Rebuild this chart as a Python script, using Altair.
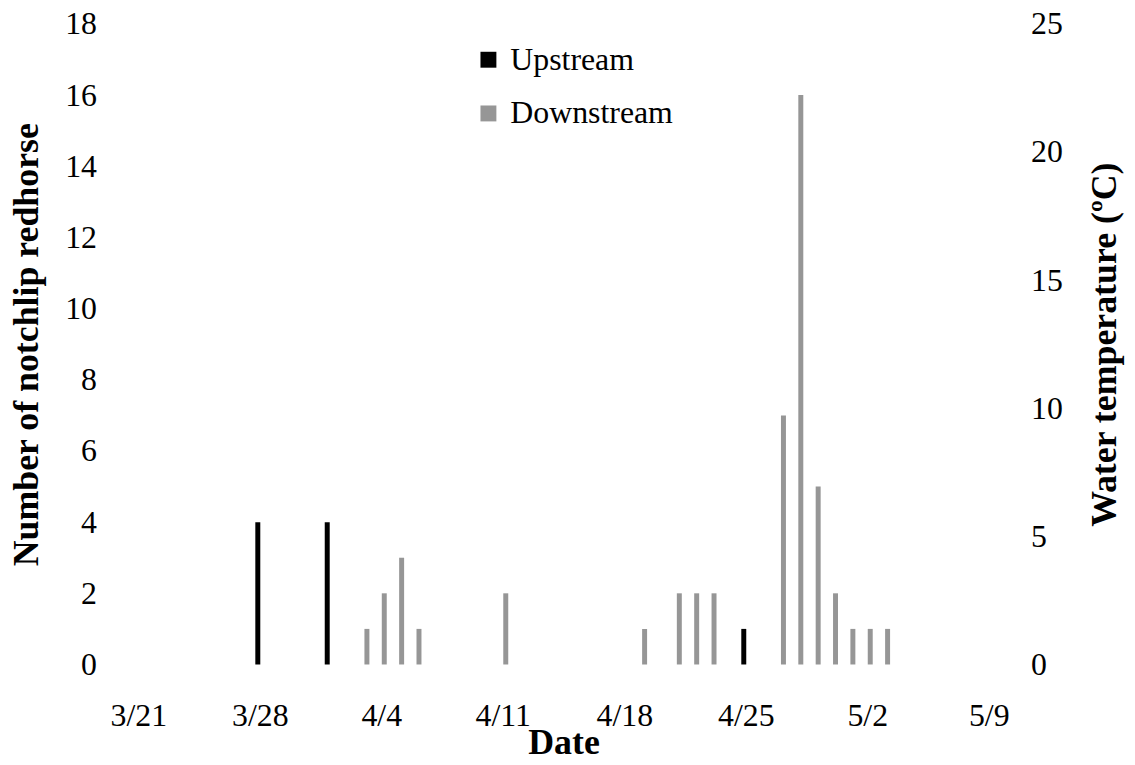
import altair as alt
import pandas as pd

YEAR = 2015

# Upstream (black) counts
up_dates = ["3/28", "4/1", "4/25"]
up_counts = [4, 4, 1]

# Downstream (gray) counts
down_dates = ["4/3", "4/4", "4/5", "4/6", "4/11", "4/19", "4/21", "4/22", "4/23",
              "4/27", "4/28", "4/29", "4/30", "5/1", "5/2", "5/3"]
down_counts = [1, 2, 3, 1, 2, 1, 2, 2, 2, 7, 16, 5, 2, 1, 1, 1]

x_tick_labels = ["3/21", "3/28", "4/4", "4/11", "4/18", "4/25", "5/2", "5/9"]
left_ticks = [0, 2, 4, 6, 8, 10, 12, 14, 16, 18]
right_ticks = [0, 5, 10, 15, 20, 25]
temp_axis_range = [0, 25]

series_names = ["Upstream", "Downstream"]
series_colors = ["#000000", "#969696"]


def iso(md):
    m, d = md.split("/")
    return f"{YEAR}-{int(m):02d}-{int(d):02d}"


def dt(md):
    m, d = md.split("/")
    return alt.DateTime(year=YEAR, month=int(m), date=int(d), utc=True)


df = pd.DataFrame({
    "date": [iso(d) for d in up_dates] + [iso(d) for d in down_dates],
    "count": up_counts + down_counts,
    "site": ["Upstream"] * len(up_dates) + ["Downstream"] * len(down_dates),
})

temp_df = pd.DataFrame({
    "date": [iso(x_tick_labels[0]), iso(x_tick_labels[-1])],
    "temp": temp_axis_range,
})

FONT = "Liberation Serif"

x_scale = alt.Scale(type="utc", domain=[dt(x_tick_labels[0]), dt(x_tick_labels[-1])])
x_enc = alt.X(
    "date:T",
    scale=x_scale,
    axis=alt.Axis(
        values=[dt(v) for v in x_tick_labels],
        labelExpr="utcFormat(datum.value, '%-m/%-d')",
        title="Date",
        labelBaseline="alphabetic",
        labelPadding=61,
        titleBaseline="alphabetic",
        titleY=89,
    ),
)

y_left = alt.Y(
    "count:Q",
    scale=alt.Scale(domain=[0, 18], nice=False),
    axis=alt.Axis(
        values=left_ticks,
        title="Number of notchlip redhorse",
        orient="left",
        labelPadding=37,
        titleX=-107,
        titleBaseline="middle",
        titleAngle=-90,
    ),
)

color_enc = alt.Color(
    "site:N",
    scale=alt.Scale(domain=series_names, range=series_colors),
    legend=alt.Legend(
        orient="none",
        legendX=341,
        legendY=20,
        title=None,
        symbolType="square",
        symbolSize=256,
        symbolStrokeWidth=0,
        symbolOpacity=1,
        labelFontSize=32,
        labelFont=FONT,
        labelColor="#000000",
        labelOffset=6,
        labelLimit=400,
        rowPadding=22,
        padding=0,
    ),
)

base = alt.Chart(df)
up = base.transform_filter(alt.datum.site == "Upstream").mark_bar(
    width=5, xOffset=-2).encode(x=x_enc, y=y_left, color=color_enc)
down = base.transform_filter(alt.datum.site == "Downstream").mark_bar(
    width=5, xOffset=3).encode(x=x_enc, y=y_left, color=color_enc)

bars = alt.layer(up, down)

temp_layer = alt.Chart(temp_df).mark_point(opacity=0).encode(
    x=x_enc,
    y=alt.Y(
        "temp:Q",
        scale=alt.Scale(domain=temp_axis_range, nice=False),
        axis=alt.Axis(
            values=right_ticks,
            orient="right",
            title="Water temperature (ºC)",
            labelPadding=37,
            titleX=111,
            titleBaseline="middle",
            titleAngle=-90,
        ),
    ),
)

chart = alt.layer(bars, temp_layer).resolve_scale(y="independent").properties(
    width=865,
    height=644,
    autosize="none",
    padding={"left": 126, "top": 14, "right": 134, "bottom": 91},
).configure_view(stroke=None).configure_axis(
    grid=False,
    domain=False,
    ticks=False,
    tickSize=0,
    labelFont=FONT,
    labelFontSize=32,
    labelColor="#000000",
    titleFont=FONT,
    titleFontSize=36,
    titleFontWeight="bold",
    titleColor="#000000",
)

chart.save("out.html", embed_options={"renderer": "svg", "actions": False})
